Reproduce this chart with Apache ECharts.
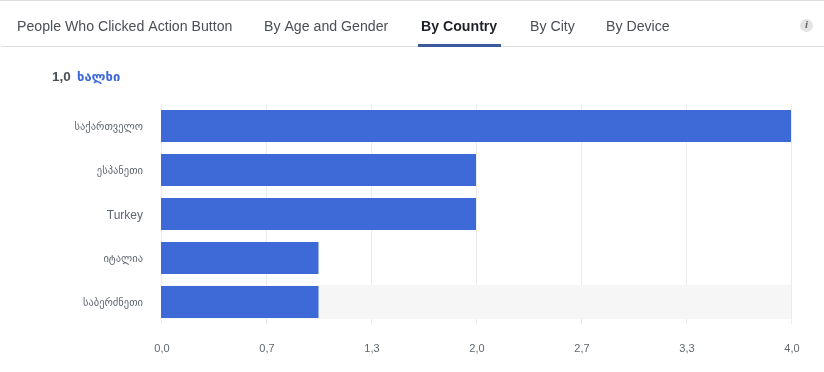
<!DOCTYPE html>
<html>
<head>
<meta charset="utf-8">
<style>
  html, body { margin: 0; padding: 0; background: #fff; }
  #chart { width: 824px; height: 372px; }
</style>
<script src="https://cdn.jsdelivr.net/npm/echarts@6/dist/echarts.min.js"></script>
</head>
<body>
<div id="chart"></div>
<script>
// Data
var countries = ['საქართველო', 'ესპანეთი', 'Turkey', 'იტალია', 'საბერძნეთი'];
var peopleValues = [4, 2, 2, 1, 1];
var hoverBandValues = [null, null, null, null, 4];
var tabNames = ['People Who Clicked Action Button', 'By Age and Gender', 'By Country', 'By City', 'By Device'];
var tabPositions = [17, 264, 421, 530, 606];
var legendValue = '1,0';
var legendName = 'ხალხი';

var FONT = '"Liberation Sans", Arial, sans-serif';
var GEORGIAN_FONT = '"Liberation Sans", "DejaVu Sans", sans-serif';

var chart = echarts.init(document.getElementById('chart'));

// Tabs, legend and the info icon are plain text/shapes on top of the grid
var header = [
    { type: 'rect', shape: { x: 0, y: 0, width: 824, height: 1 }, style: { fill: '#dddfe2' } },
    { type: 'rect', shape: { x: 1, y: 46, width: 823, height: 1 }, style: { fill: '#dddfe2' } },
    { type: 'rect', shape: { x: 418, y: 44, width: 83, height: 3 }, style: { fill: '#3b5998' } },
    { type: 'circle', shape: { cx: 806.5, cy: 25.5, r: 6.5 }, style: { fill: '#e4e4e4' } },
    { type: 'text', x: 806.5, y: 25.5, style: { text: 'i', font: 'italic bold 11px "Liberation Serif", serif', fill: '#666', align: 'center', verticalAlign: 'middle' } },
    { type: 'text', x: 52, y: 77, style: { text: legendValue, font: 'bold 13.5px ' + FONT, fill: '#4b4f56', verticalAlign: 'middle' } },
    { type: 'text', x: 77, y: 77, style: { text: legendName, font: 'bold 13px ' + GEORGIAN_FONT, fill: '#3e6ad8', verticalAlign: 'middle' } }
];
tabNames.forEach(function (name, i) {
    var selected = name === 'By Country';
    header.push({
        type: 'text',
        x: tabPositions[i],
        y: 27,
        style: {
            text: name,
            font: (selected ? 'bold ' : '') + '14.15px ' + FONT,
            fill: selected ? '#1d2129' : '#4b4f56',
            verticalAlign: 'middle'
        }
    });
});

var option = {
    animation: false,
    graphic: header,
    grid: { left: 161, right: 33, top: 104, bottom: 48 },
    xAxis: {
        type: 'value',
        min: 0,
        max: 4,
        interval: 4 / 6,
        axisLine: { show: false },
        axisTick: { show: false },
        splitLine: { lineStyle: { color: '#ebebeb', width: 1 } },
        axisLabel: {
            margin: 19,
            padding: [0, 0, 0, 2],
            fontSize: 11,
            fontFamily: FONT,
            color: '#606770',
            formatter: function (value) {
                return value.toFixed(1).replace('.', ',');
            }
        }
    },
    yAxis: [{
        type: 'category',
        inverse: true,
        data: countries,
        axisLine: { show: false },
        axisTick: { show: false },
        axisLabel: {
            margin: 18,
            padding: [3, 0, 0, 0],
            fontSize: 10.5,
            fontFamily: GEORGIAN_FONT,
            color: '#606770',
            formatter: function (name) {
                return /^[A-Za-z]/.test(name) ? '{latin|' + name + '}' : name;
            },
            rich: { latin: { fontSize: 12, fontFamily: FONT, color: '#606770' } }
        }
    }, {
        // same bands as the visible axis, only there to carry the hover row
        type: 'category',
        inverse: true,
        data: countries,
        show: false
    }],
    series: [{
        name: 'hover',
        type: 'bar',
        yAxisIndex: 1,
        barWidth: 34,
        z: 1,
        silent: true,
        itemStyle: { color: '#f6f6f6' },
        data: hoverBandValues
    }, {
        name: legendName,
        type: 'bar',
        yAxisIndex: 0,
        barWidth: 32,
        z: 2,
        itemStyle: { color: '#3e6ad8' },
        data: peopleValues
    }]
};
chart.setOption(option);
</script>
</body>
</html>
